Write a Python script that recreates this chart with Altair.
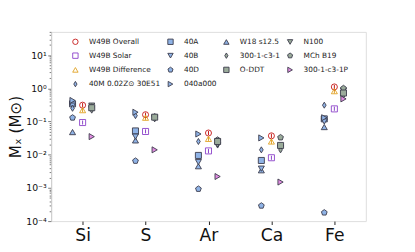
import altair as alt
import pandas as pd

elements = ["Si", "S", "Ar", "Ca", "Fe"]

# legend order (row-major for 4 columns, reproducing column-major layout)
legend_order = ["W49B Overall", "40A", "W18 s12.5", "N100",
                "W49B Solar", "40B", "300-1-c3-1", "MCh B19",
                "W49B Difference", "40D", "O-DDT", "300-1-c3-1P",
                "40M 0.02Z\u2299 30E51", "040a000"]

values = {
    "W49B Overall":      [0.31, 0.16, 0.045, 0.037, 1.1],
    "W49B Solar":        [0.093, 0.05, 0.013, 0.0081, 0.24],
    "W49B Difference":   [0.22, 0.13, 0.030, 0.025, 0.82],
    "40M 0.02Z\u2299 30E51": [0.25, 0.15, 0.025, 0.014, 0.31],
    "40A":               [0.34, 0.052, 0.0095, 0.0067, 0.12],
    "40B":               [0.30, 0.035, 0.006, 0.0038, 0.10],
    "40D":               [0.13, 0.0065, 0.00093, 0.00029, 0.00018],
    "040a000":           [0.43, 0.19, 0.042, 0.032, 0.13],
    "W18 s12.5":         [0.048, 0.027, 0.0045, 0.0034, 0.068],
    "300-1-c3-1":        [0.22, 0.12, 0.021, 0.014, 0.62],
    "O-DDT":             [0.26, 0.135, 0.025, 0.019, 0.72],
    "N100":              [0.30, 0.13, 0.019, 0.016, 0.85],
    "MCh B19":           [0.27, 0.14, 0.028, 0.033, 1.0],
    "300-1-c3-1P":       [0.035, 0.014, 0.0022, 0.0015, 0.48],
}

err_lo = {
    "W49B Overall":    [0.27, 0.14, 0.039, 0.032, 0.95],
    "W49B Solar":      [0.081, 0.044, 0.011, 0.0070, 0.21],
    "W49B Difference": [0.19, 0.11, 0.026, 0.021, 0.70],
}
err_hi = {
    "W49B Overall":    [0.36, 0.185, 0.052, 0.043, 1.27],
    "W49B Solar":      [0.107, 0.058, 0.015, 0.0093, 0.28],
    "W49B Difference": [0.25, 0.15, 0.035, 0.029, 0.95],
}

group = {s: "mid" for s in ["W49B Overall", "W49B Solar", "W49B Difference"]}
for s in ["40M 0.02Z\u2299 30E51", "40A", "40B", "40D", "040a000", "W18 s12.5"]:
    group[s] = "left"
for s in ["300-1-c3-1", "O-DDT", "N100", "MCh B19", "300-1-c3-1P"]:
    group[s] = "right"

PENT = "M0,-1L0.951,-0.309L0.588,0.809L-0.588,0.809L-0.951,-0.309Z"
THIN_DIAMOND = "M0,-1L0.6,0L0,1L-0.6,0Z"
shapes = {
    "W49B Overall": "circle", "W49B Solar": "square", "W49B Difference": "triangle-up",
    "40M 0.02Z\u2299 30E51": THIN_DIAMOND, "40A": "square", "40B": "triangle-down",
    "40D": PENT, "040a000": "triangle-right", "W18 s12.5": "triangle-up",
    "300-1-c3-1": THIN_DIAMOND, "O-DDT": "square", "N100": "triangle-down",
    "MCh B19": PENT, "300-1-c3-1P": "triangle-right",
}
BLUE, GREY, PINK = "#8fb3e6", "#9aab9a", "#e08ce0"
fills = {s: (BLUE if group[s] == "left" else GREY) for s in group}
fills["300-1-c3-1P"] = PINK
for s in ["W49B Overall", "W49B Solar", "W49B Difference"]:
    fills[s] = "transparent"
strokes = {s: "#3a3a4a" for s in group}
strokes["W49B Overall"] = "#c41414"
strokes["W49B Solar"] = "#8a3fc8"
strokes["W49B Difference"] = "#e0a020"

rows = []
for s in legend_order:
    vals = values[s]
    for i, v in enumerate(vals):
        rows.append({"series": s, "idx": i, "value": v, "grp": group[s],
                     "lo": err_lo.get(s, vals)[i], "hi": err_hi.get(s, vals)[i]})
df = pd.DataFrame(rows)

dom = legend_order
xcalc = "datum.idx + (datum.grp == 'left' ? -0.16 : (datum.grp == 'right' ? 0.145 : 0))"
labels_expr = "[" + ",".join("'%s'" % e for e in elements) + "][round(datum.value)]"

minor = []
for e in range(-4, 2):
    for m in range(1, 10):
        v = m * 10 ** e
        if v <= 50:
            minor.append(v)

is_major = "abs(log(datum.value)/LN10 - round(log(datum.value)/LN10)) < 1e-6"
sup = ("({'-4':'\u207b\u2074','-3':'\u207b\u00b3','-2':'\u207b\u00b2','-1':'\u207b\u00b9',"
       "'0':'\u2070','1':'\u00b9'})[''+round(log(datum.value)/LN10)]")
ylabel_expr = f"({is_major}) ? '10' + {sup} : ''"

x_enc = alt.X("xpos:Q",
              scale=alt.Scale(domain=[-0.5, 4.5], nice=False, zero=False),
              axis=alt.Axis(values=[0, 1, 2, 3, 4], labelExpr=labels_expr, title=None,
                            grid=False, domain=False, tickSize=3.5, tickColor="#222",
                            labelFontSize=17.5, labelColor="#111", labelPadding=2,
                            labelFont="DejaVu Sans"))
y_scale = alt.Scale(type="log", domain=[1e-4, 50], nice=False)
y_enc = alt.Y("value:Q", scale=y_scale,
              axis=alt.Axis(values=minor, labelExpr=ylabel_expr,
                            title="M\u2093 (M\u2299)", titleFontSize=15.5,
                            titleFont="DejaVu Sans", titleFontWeight="normal",
                            titleColor="#111", titlePadding=2,
                            grid=False, domain=True, domainColor="#cccccc",
                            tickColor="#444", tickWidth=0.7,
                            tickSize={"condition": {"test": is_major, "value": 3.5}, "value": 2},
                            labelFontSize=9.5, labelColor="#111", labelPadding=1.5,
                            labelFont="DejaVu Sans", labelBound=False, labelOverlap=False,
                            labelFlush=False))

base = alt.Chart(df).transform_calculate(xpos=xcalc)

errbars = base.transform_filter("datum.grp == 'mid'").mark_rule(strokeWidth=1).encode(
    x=x_enc, y=alt.Y("lo:Q", scale=y_scale), y2="hi:Q",
    color=alt.Color("series:N", scale=alt.Scale(domain=dom, range=[strokes[s] for s in dom]),
                    legend=None),
)

points = base.mark_point(filled=True, size=38, strokeWidth=0.9, opacity=1,
                         fillOpacity=1, strokeOpacity=1).encode(
    x=x_enc, y=y_enc,
    shape=alt.Shape("series:N", scale=alt.Scale(domain=dom, range=[shapes[s] for s in dom]),
                    title=None),
    fill=alt.Fill("series:N", scale=alt.Scale(domain=dom, range=[fills[s] for s in dom]),
                  title=None),
    stroke=alt.Stroke("series:N", scale=alt.Scale(domain=dom, range=[strokes[s] for s in dom]),
                      title=None,
                      legend=alt.Legend(orient="none", legendX=21, legendY=6, columns=4,
                                        values=legend_order, direction="horizontal",
                                        columnPadding=5, rowPadding=4.5, labelFontSize=7.5,
                                        labelFont="DejaVu Sans", labelColor="#222",
                                        symbolSize=30, symbolStrokeWidth=0.9,
                                        labelOffset=10, padding=0, title=None)),
)

chart = alt.layer(errbars, points).resolve_scale(color="independent").properties(
    width=321, height=193,
    autosize=alt.AutoSizeParams(type="none"),
    padding={"left": 44, "top": 22, "right": 42, "bottom": 21},
).configure_view(stroke="#cccccc", strokeWidth=1).configure(background="white")

chart.save("out.html", embed_options={"renderer": "svg", "actions": False})
